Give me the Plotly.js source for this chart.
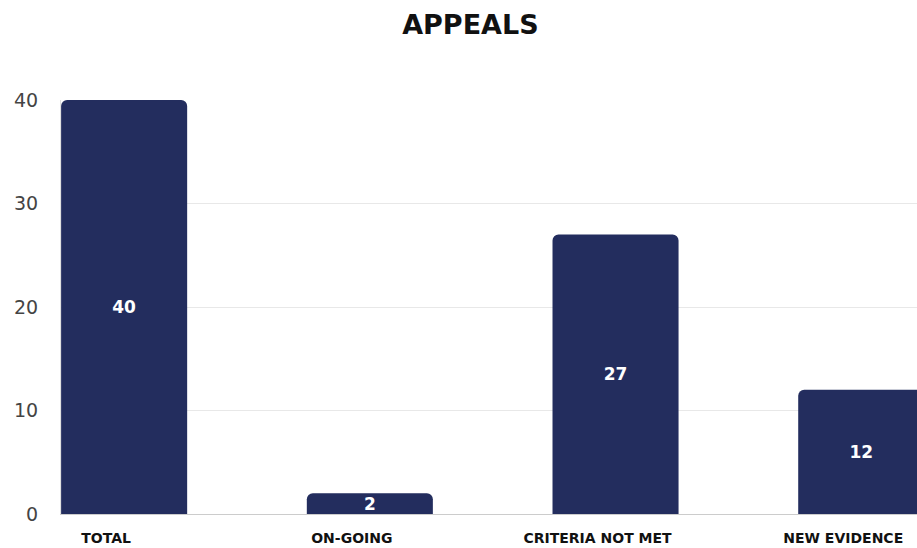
<!DOCTYPE html>
<html>
<head>
<meta charset="utf-8">
<script src="https://cdn.plot.ly/plotly-3.0.1.min.js"></script>
<style>html,body{margin:0;padding:0;background:#fff;}#chart{width:917px;height:548px;}</style>
</head>
<body>
<div id="chart"></div>
<script>
const categories = ["TOTAL", "ON-GOING", "CRITERIA NOT MET", "NEW EVIDENCE"];
const values = [40, 2, 27, 12];
const yTicks = [0, 10, 20, 30, 40];

const trace = {
  type: "bar",
  x: categories,
  y: values,
  text: values.map(String),
  textposition: "inside",
  insidetextanchor: "middle",
  constraintext: "none",
  textangle: 0,
  textfont: {family: "DejaVu Sans, Verdana, sans-serif", size: 17, color: "#ffffff", weight: 700},
  marker: {color: "#232d5e", line: {width: 0}, cornerradius: 6},
  hoverinfo: "none"
};

const layout = {
  width: 917, height: 548,
  margin: {l: 61, r: 0, t: 100, b: 34},
  paper_bgcolor: "#ffffff",
  plot_bgcolor: "#ffffff",
  showlegend: false,
  bargap: 0.487,
  uniformtext: {minsize: 17, mode: "show"},
  title: {
    text: "<b>APPEALS</b>",
    x: 0.513, xanchor: "center",
    y: 0.955, yanchor: "middle",
    font: {family: "DejaVu Sans, Verdana, sans-serif", size: 27, color: "#111111"}
  },
  xaxis: {
    type: "category",
    range: [-0.257, 3.227],
    showgrid: false,
    showline: true, linecolor: "#cccccc", linewidth: 1,
    zeroline: false,
    ticks: "",
    ticklabelstandoff: 11,
    ticklabelshift: -18,
    tickfont: {family: "DejaVu Sans, Verdana, sans-serif", size: 14, color: "#111111", weight: 700},
    automargin: false,
    fixedrange: true
  },
  yaxis: {
    range: [0, 40],
    tickvals: yTicks,
    ticktext: yTicks.map(String),
    showgrid: true, gridcolor: "#e8e8e8", gridwidth: 1,
    zeroline: false,
    showline: true, linecolor: "#e0e0e0", linewidth: 1,
    ticks: "",
    ticklabelstandoff: 18,
    tickfont: {family: "DejaVu Sans, Verdana, sans-serif", size: 19, color: "#444444"},
    automargin: false,
    fixedrange: true
  }
};

Plotly.newPlot("chart", [trace], layout, {displayModeBar: false, staticPlot: true});
</script>
</body>
</html>
